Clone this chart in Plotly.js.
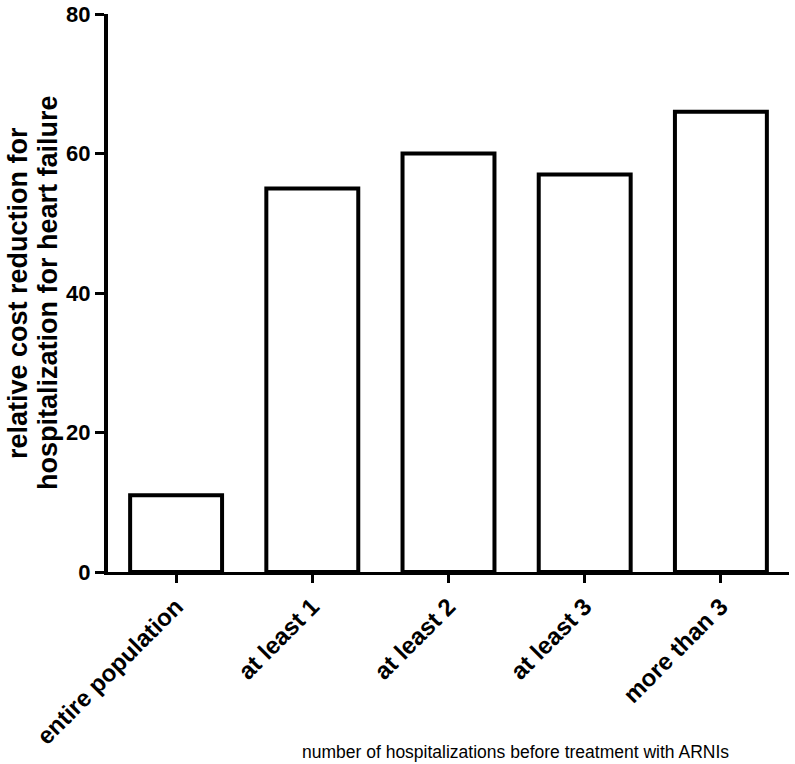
<!DOCTYPE html>
<html>
<head>
<meta charset="utf-8">
<script src="https://cdn.plot.ly/plotly-3.0.1.min.js"></script>
<style>
  html, body { margin: 0; padding: 0; background: #fff; }
  #chart { width: 795px; height: 764px; }
</style>
</head>
<body>
<div id="chart"></div>
<script>
  // groups and values
  var categories = ['entire population', 'at least 1', 'at least 2', 'at least 3', 'more than 3'];
  var reduction = [11, 55, 60, 57, 66];
  var yTicks = [0, 20, 40, 60, 80];
  var yTitleLines = ['relative cost reduction for', 'hospitalization for heart failure'];

  var FONT = 'Liberation Sans, Arial, sans-serif';

  var trace = {
    type: 'bar',
    x: categories,
    y: reduction,
    width: 0.675,
    marker: { color: '#ffffff', line: { color: '#000000', width: 4 } },
    hoverinfo: 'x+y'
  };

  // y title as two rotated lines, tighter line spacing than plotly's <br>
  var titleShift = [-90, -60];
  var annotations = yTitleLines.map(function (t, i) {
    return {
      text: t,
      xref: 'paper', yref: 'paper',
      x: 0, y: 0.5, xshift: titleShift[i], xanchor: 'center', yanchor: 'middle',
      textangle: -90,
      showarrow: false,
      font: { size: 27, family: FONT, weight: 'bold' }
    };
  });
  annotations.push({
    text: 'number of hospitalizations before treatment with ARNIs',
    xref: 'paper', yref: 'paper',
    x: 0.599, y: -0.3226, xanchor: 'center', yanchor: 'middle',
    showarrow: false,
    font: { size: 17.5, family: FONT }
  });

  var layout = {
    width: 795,
    height: 764,
    margin: { l: 108, r: 6, t: 14, b: 192 },
    paper_bgcolor: '#ffffff',
    plot_bgcolor: '#ffffff',
    font: { family: FONT, color: '#000' },
    showlegend: false,
    xaxis: {
      type: 'category',
      range: [-0.5, 4.5],
      showline: true, linecolor: '#000', linewidth: 3,
      ticks: 'outside', ticklen: 8, tickwidth: 3, tickcolor: '#000',
      tickangle: -45,
      tickfont: { size: 24, family: FONT, weight: 'bold' },
      showgrid: false, zeroline: false, fixedrange: true
    },
    yaxis: {
      range: [0, 80],
      tickvals: yTicks,
      ticklabeloverflow: 'allow',
      showline: true, linecolor: '#000', linewidth: 4,
      ticks: 'outside', ticklen: 9, tickwidth: 3, tickcolor: '#000',
      tickfont: { size: 22, family: FONT, weight: 'bold' },
      showgrid: false, zeroline: false, fixedrange: true
    },
    annotations: annotations
  };

  Plotly.newPlot('chart', [trace], layout, { displayModeBar: false, staticPlot: true });
</script>
</body>
</html>
